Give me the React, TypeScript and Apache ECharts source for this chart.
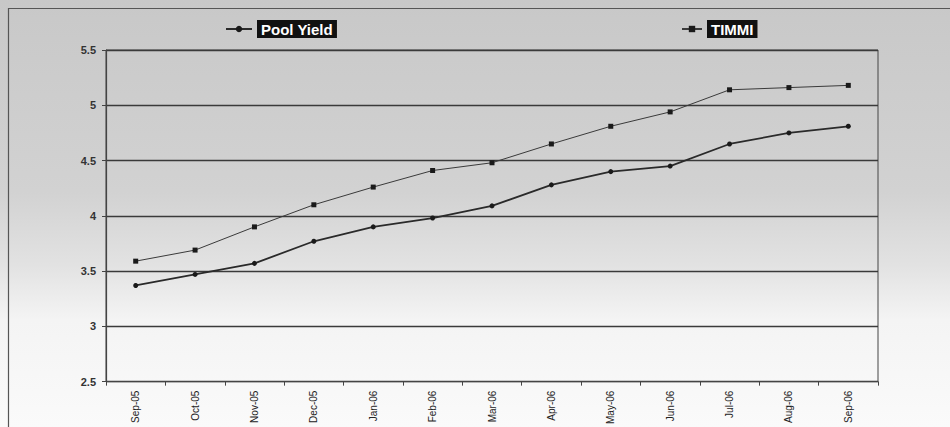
import React, { useEffect, useRef } from "react";
import * as echarts from "echarts";

const categories = ["Sep-05", "Oct-05", "Nov-05", "Dec-05", "Jan-06", "Feb-06", "Mar-06", "Apr-06", "May-06", "Jun-06", "Jul-06", "Aug-06", "Sep-06"];
const poolYield = [3.37, 3.47, 3.57, 3.77, 3.9, 3.98, 4.09, 4.28, 4.4, 4.45, 4.65, 4.75, 4.81];
const timmi = [3.59, 3.69, 3.9, 4.1, 4.26, 4.41, 4.48, 4.65, 4.81, 4.94, 5.14, 5.16, 5.18];
const yTicks = { min: 2.5, max: 5.5, interval: 0.5 };

export default function App() {
  const ref = useRef<HTMLDivElement>(null);
  useEffect(() => {
    const chart = echarts.init(ref.current!, undefined, { renderer: "svg" });
    const legendText = {
      color: "#ffffff",
      fontWeight: "bold",
      fontFamily: "Liberation Sans, Arial, sans-serif",
      fontSize: 15,
      backgroundColor: "#111111",
      padding: [2, 4, 1, 4],
    };
    chart.setOption({
      animation: false,
      backgroundColor: "transparent",
      legend: [
        { data: ["Pool Yield"], left: 220, top: 15, itemWidth: 26, itemHeight: 8, itemGap: 4, textStyle: legendText },
        { data: ["TIMMI"], left: 676, top: 15, itemWidth: 20, itemHeight: 8, textStyle: legendText },
      ],
      grid: { left: 106, right: 72, top: 50, bottom: 45, show: true, borderColor: "#444", borderWidth: 1, backgroundColor: "transparent" },
      xAxis: {
        type: "category",
        data: categories,
        boundaryGap: true,
        axisLine: { lineStyle: { color: "#444", width: 1.2 } },
        axisTick: { show: true, length: 4, inside: false, lineStyle: { color: "#444" } },
        axisLabel: { rotate: 90, fontSize: 10, color: "#222", fontFamily: "Liberation Sans, Arial, sans-serif", margin: 9 },
      },
      yAxis: {
        type: "value",
        min: yTicks.min,
        max: yTicks.max,
        interval: yTicks.interval,
        axisLine: { show: true, lineStyle: { color: "#444", width: 1.2 } },
        axisTick: { show: true, length: 4, lineStyle: { color: "#444" } },
        axisLabel: { fontSize: 11, fontWeight: "bold", color: "#333", fontFamily: "Liberation Sans, Arial, sans-serif", margin: 10 },
        splitLine: { show: true, lineStyle: { color: "#3a3a3a", width: 1.4 } },
      },
      series: [
        {
          name: "Pool Yield",
          type: "line",
          data: poolYield,
          symbol: "circle",
          symbolSize: 5,
          lineStyle: { color: "#2a2a2a", width: 1.8 },
          itemStyle: { color: "#1a1a1a" },
        },
        {
          name: "TIMMI",
          type: "line",
          data: timmi,
          symbol: "rect",
          symbolSize: 5,
          lineStyle: { color: "#3a3a3a", width: 1 },
          itemStyle: { color: "#1a1a1a" },
        },
      ],
      graphic: [
        { type: "rect", left: 6, top: 6, shape: { width: 960, height: 440 }, style: { fill: "none", stroke: "#555", lineWidth: 1.2 }, silent: true },
      ],
    });
    return () => chart.dispose();
  }, []);
  return (
    <div
      ref={ref}
      style={{
        position: "fixed",
        left: 0,
        top: 0,
        width: 950,
        height: 427,
        background: "linear-gradient(180deg, #c8c8c8 0%, #d2d2d2 45%, #e2e2e2 62%, #f4f4f4 75%, #fafafa 100%)",
      }}
    />
  );
}
